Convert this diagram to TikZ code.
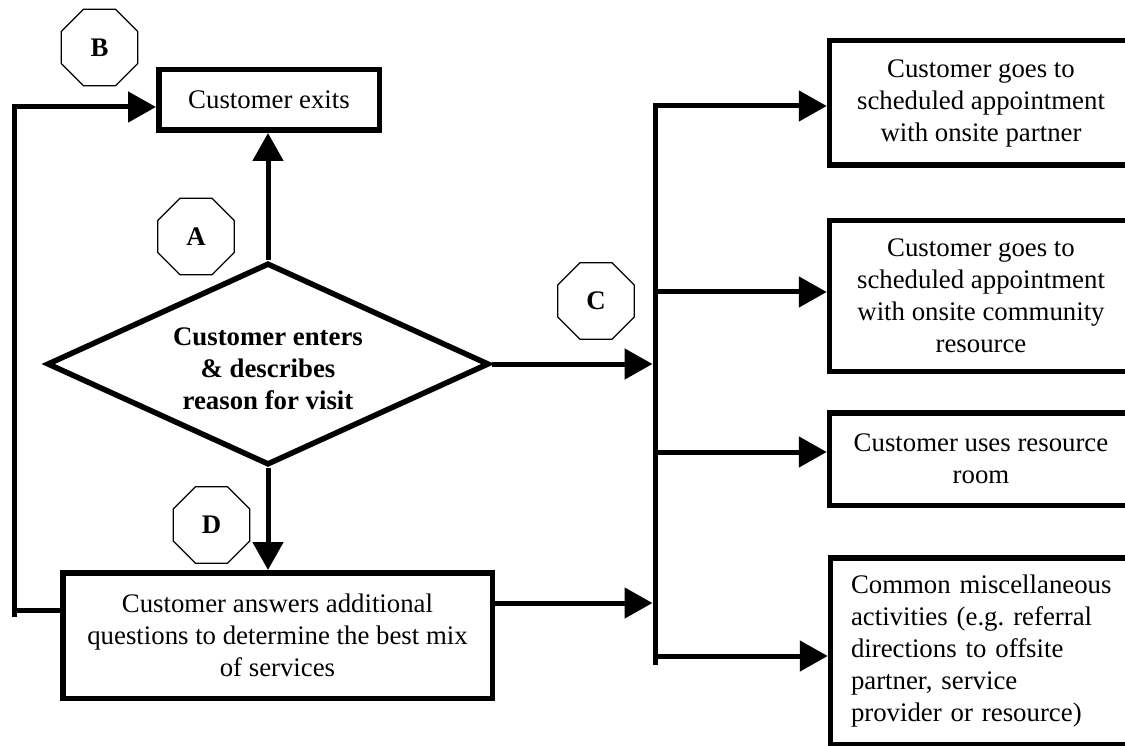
\documentclass[tikz,border=0pt]{standalone}
\usepackage{fontspec}
\setmainfont{Liberation Serif}
\usetikzlibrary{arrows.meta,shapes.geometric}

\tikzset{
  txt/.style={font=\fontsize{26.8}{32}\selectfont},
  box/.style={txt, draw, rectangle, line width=5.5pt, inner sep=0pt, align=center, line join=miter},
  rtext/.style={txt, rectangle, inner sep=0pt, outer sep=0pt, align=center, minimum width=303pt},
  boxline/.style={line width=5.5pt, line join=miter},
  decision/.style={txt, font=\fontsize{26.8}{32}\selectfont\bfseries, diamond, aspect=2.19, draw,
    line width=5.5pt, inner sep=0pt, minimum width=442pt, minimum height=202pt},
  tag/.style={regular polygon, regular polygon sides=8, draw, line width=1.3pt,
    minimum size=83pt, inner sep=0pt, font=\fontsize{26.8}{32}\selectfont\bfseries},
  wire/.style={line width=5pt, line join=miter},
  arr/.style={wire, -{Triangle[length=28pt,width=30pt]}},
  tobox/.style={arr, shorten >=2.75pt},
  tobus/.style={arr, shorten >=2.5pt},
}

\begin{document}
\begin{tikzpicture}[x=1pt,y=-1pt]
\useasboundingbox (0,0) rectangle (1125,746);

% left column
\node[box, minimum width=220.5pt, minimum height=60.5pt] (exits) at (269,100) {Customer exits};
\node[decision] (dia) at (268,364)
  {\raisebox{-7pt}[\height][\depth]{\begin{tabular}{@{}c@{}}Customer enters\\ \& describes\\ reason for visit\end{tabular}}};
\node[box, minimum width=429.5pt, minimum height=125.5pt] (ans) at (277.5,635.5)
  {Customer answers additional\\ questions to determine the best mix\\ of services};

% lettered markers
\node[tag] (tB) at (99.5,47.5) {B};
\node[tag] (tA) at (196,236.5) {A};
\node[tag] (tD) at (211.5,525) {D};
\node[tag] (tC) at (596,301) {C};

% right column (boxes run off the right edge)
\coordinate (pageR) at (1125,0);
\node[rtext, minimum height=124.5pt] (r1) at (981,103)
  {Customer goes to\\ scheduled appointment\\ with onsite partner};
\node[rtext, minimum height=150.5pt] (r2) at (981,296)
  {Customer goes to\\ scheduled appointment\\ with onsite community\\ resource};
\node[rtext, minimum height=92.5pt] (r3) at (981,459)
  {Customer uses resource\\ room};
\node[rtext, minimum height=186.5pt, text width=262pt, align=left] (r4) at (982,651)
  {Common miscellaneous\\ activities (e.g.\ referral\\ directions to offsite\\ partner, service\\ provider or resource)};
\foreach \r in {r1,r2,r3,r4}{
  \draw[boxline] (\r.north west -| pageR) -- (\r.north west) -- (\r.south west) -- (\r.south west -| pageR);
}

% junction points
\coordinate (loopT) at (14,107);
\coordinate (loopB) at (14,610);
\coordinate (busT) at (655,103.5);
\coordinate (busE) at (655,665);
\coordinate (jin1) at (655,364);
\coordinate (jin2) at (655,603);
\coordinate (b1) at (655,106);
\coordinate (b2) at (655,292);
\coordinate (b3) at (655,452);
\coordinate (b4) at (655,656);

% decision outlets
\draw[arr] (dia.north) -- (dia.north |- exits.south);
\draw[arr] (dia.south) -- (dia.south |- ans.north);
\draw[tobus] (dia.east) -- (jin1);
\draw[tobus] (ans.east |- jin2) -- (jin2);

% loop back to exit
\draw[wire] (ans.west |- loopB) -- (loopB);
\draw[arr] ([yshift=-7pt]loopB) -- (loopT) -- (exits.west |- loopT);

% distribution bus
\draw[wire] (busT) -- (busE);
\draw[tobox] (b1) -- (b1 -| r1.west);
\draw[tobox] (b2) -- (b2 -| r2.west);
\draw[tobox] (b3) -- (b3 -| r3.west);
\draw[tobox] (b4) -- (b4 -| r4.west);
\end{tikzpicture}
\end{document}
